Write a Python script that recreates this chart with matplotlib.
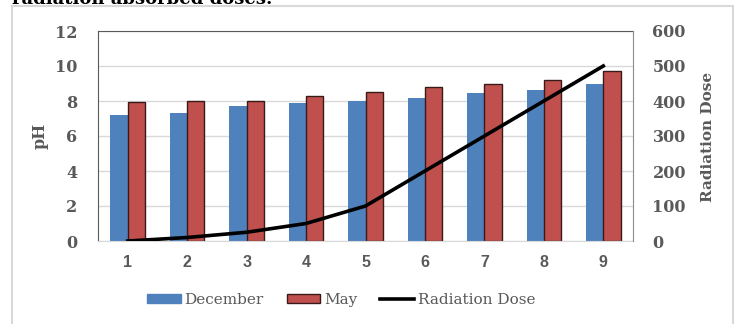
import numpy as np
import matplotlib

matplotlib.use("Agg")
import matplotlib.pyplot as plt
from matplotlib.patches import Patch, Rectangle
from matplotlib.lines import Line2D

# --------------------------------------------------------------------------- #
# Data
# --------------------------------------------------------------------------- #
samples = [1, 2, 3, 4, 5, 6, 7, 8, 9]
ph_december = [7.2, 7.3, 7.7, 7.9, 8.0, 8.15, 8.45, 8.65, 8.95]
ph_may = [7.95, 8.0, 8.0, 8.3, 8.5, 8.8, 9.0, 9.2, 9.7]
radiation_dose = [0, 10, 25, 50, 100, 200, 300, 400, 500]

BLUE = "#4F81BD"
RED = "#C0504D"
GREY = "#595959"
GRID = "#D9D9D9"
SERIF = "DejaVu Serif"
SANS = "Liberation Sans"

W, H = 737, 324
fig = plt.figure(figsize=(W / 100, H / 100), dpi=100)

# outer chart frame and the clipped caption above it
fig.patches.append(Rectangle((12 / W, -0.1), 721 / W, 1.1 - 6 / H,
                             transform=fig.transFigure, fill=False,
                             edgecolor=GRID, linewidth=1.5))
fig.text(12 / W, 1 - 4 / H, "radiation absorbed doses.", fontsize=13,
         fontweight="bold", family=SERIF, color="black", va="baseline")

ax = fig.add_axes([98 / W, 83 / H, 535 / W, 210 / H])
x = np.array(samples)
bw = 0.29
ax.bar(x - bw / 2, ph_december, width=bw, color=BLUE, zorder=2)
ax.bar(x + bw / 2, ph_may, width=bw, color=RED, edgecolor="#3a1a19",
       linewidth=1, zorder=2)

ax.set_xlim(0.5, 9.5)
ax.set_ylim(0, 12)
ax.set_yticks(range(0, 13, 2))
ax.set_xticks(samples)
ax.grid(axis="y", color=GRID, linewidth=1, zorder=0)
ax.tick_params(length=0)
ax.tick_params(axis="y", pad=15)
ax.tick_params(axis="x", pad=10)
for lab in ax.get_yticklabels():
    lab.set_family(SERIF); lab.set_fontweight("bold"); lab.set_fontsize(11.5); lab.set_color(GREY)
for lab in ax.get_xticklabels():
    lab.set_family(SANS); lab.set_fontweight("bold"); lab.set_fontsize(11.5); lab.set_color(GREY)

ax.spines["left"].set_color(GREY)
ax.spines["top"].set_color(GREY)
ax.spines["bottom"].set_color(GRID)
ax.spines["right"].set_visible(False)

ax2 = ax.twinx()
ax2.plot(x, radiation_dose, color="black", linewidth=2.6, zorder=3)
ax2.set_ylim(0, 600)
ax2.set_yticks(range(0, 601, 100))
ax2.tick_params(length=0, pad=14)
for lab in ax2.get_yticklabels():
    lab.set_family(SERIF); lab.set_fontweight("bold"); lab.set_fontsize(11.5); lab.set_color(GREY)
ax2.spines["right"].set_color("#8c8c8c")
for s in ("left", "top", "bottom"):
    ax2.spines[s].set_visible(False)

fig.text(40 / W, 1 - 136 / H, "pH", rotation=90, ha="center", va="center",
         family=SERIF, fontweight="bold", fontsize=11.5, color=GREY)
fig.text(708 / W, 1 - 137 / H, "Radiation Dose", rotation=90, ha="center",
         va="center", family=SERIF, fontweight="bold", fontsize=11, color=GREY)

handles = [Patch(facecolor=BLUE, edgecolor=BLUE),
           Patch(facecolor=RED, edgecolor="#3a1a19"),
           Line2D([], [], color="black", linewidth=2.6)]
leg = fig.legend(handles, ["December", "May", "Radiation Dose"], loc="center",
                 bbox_to_anchor=(341 / W, 1 - 300 / H), ncol=3, frameon=False,
                 prop={"family": SERIF, "size": 11}, handlelength=2.2,
                 handleheight=0.6, handletextpad=0.25, columnspacing=1.5)
for t in leg.get_texts():
    t.set_color(GREY)

fig.savefig("out.png", dpi=100)
